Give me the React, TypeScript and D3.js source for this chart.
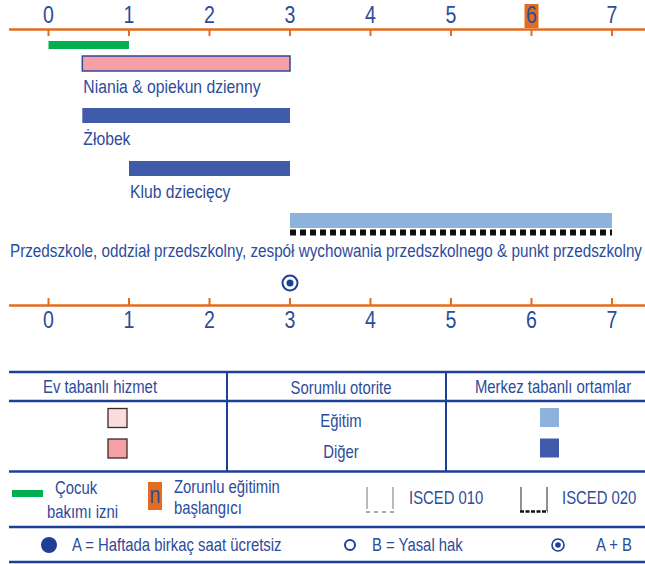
import * as d3 from "d3";
import type { ReactNode } from "react";

const WIDTH = 645;
const HEIGHT = 564;
const BLUE_TEXT = "#2c4c9c";
const ORANGE = "#e36c21";
const LINE_BLUE = "#1e3f98";
const FONT = "'Liberation Sans Narrow', 'Arial Narrow', 'Liberation Sans', Arial, sans-serif";
const SQUEEZE = 0.85; // no narrow font installed, so condense by hand

const ages = [0, 1, 2, 3, 4, 5, 6, 7];
const compulsoryAge = 6;
const leave = { start: 0, end: 1 };

type Setting = {
  label: string;
  start: number;
  end: number;
  fill: string;
  isced: "none" | "010" | "020";
  border?: string;
};

const settings: Setting[] = [
  { label: "Niania & opiekun dzienny", start: 0.42, end: 3, fill: "#f4a0a4", isced: "none", border: "#2a4a9a" },
  { label: "Żłobek", start: 0.42, end: 3, fill: "#3f5ba9", isced: "none" },
  { label: "Klub dziecięcy", start: 1, end: 3, fill: "#3f5ba9", isced: "none" },
  {
    label: "Przedszkole, oddział przedszkolny, zespół wychowania przedszkolnego & punkt przedszkolny",
    start: 3,
    end: 7,
    fill: "#8db3dd",
    isced: "020",
  },
];
const entitlementAge = 3;

const tableHeaders = ["Ev tabanlı hizmet", "Sorumlu otorite", "Merkez tabanlı ortamlar"];
const authorities = ["Eğitim", "Diğer"];
const homeColors = ["#fadcdd", "#f4a0a4"];
const centreColors = ["#8db3dd", "#3f5ba9"];

const x = d3.scaleLinear().domain([0, 7]).range([48.5, 612]);

const BAR_TOPS = [56, 108, 161, 213];
const BAR_H = 15;

function T({ x, y, size = 17, anchor = "start", len, children }: { x: number; y: number; size?: number; anchor?: string; len?: number; children: ReactNode }) {
  return (
    <text
      transform={`translate(${x} ${y}) scale(${SQUEEZE} 1)`}
      fontSize={size}
      fill={BLUE_TEXT}
      textAnchor={anchor}
      textLength={len ? len / SQUEEZE : undefined}
      lengthAdjust={len ? "spacingAndGlyphs" : undefined}
    >
      {children}
    </text>
  );
}

function App() {
  const colX = [9, 227, 446, 645];
  const colText = [100, 341, 553];
  return (
    <svg width={WIDTH} height={HEIGHT} viewBox={`0 0 ${WIDTH} ${HEIGHT}`} style={{ position: "absolute", left: 0, top: 0, background: "#fff" }} fontFamily={FONT}>
      {/* top axis */}
      <line x1={9} x2={WIDTH} y1={29.5} y2={29.5} stroke={ORANGE} strokeWidth={2.5} />
      <rect x={x(compulsoryAge) - 7} y={4} width={14} height={24} fill={ORANGE} />
      {ages.map((a) => (
        <g key={`t${a}`}>
          <line x1={x(a)} x2={x(a)} y1={29} y2={36} stroke={ORANGE} strokeWidth={2} />
          <T x={x(a)} y={23} size={23} anchor="middle">
            {a}
          </T>
        </g>
      ))}

      {/* leave */}
      <rect x={x(leave.start)} y={41} width={x(leave.end) - x(leave.start)} height={8} fill="#00b050" />

      {/* settings */}
      {settings.map((s, i) => {
        const y0 = BAR_TOPS[i];
        return (
          <g key={s.label}>
            <rect
              x={x(s.start)}
              y={y0}
              width={x(s.end) - x(s.start)}
              height={BAR_H}
              fill={s.fill}
              stroke={s.border ?? "none"}
              strokeWidth={s.border ? 1.5 : 0}
            />
            {s.isced === "020" && (
              <line
                x1={x(s.start)}
                x2={x(s.end)}
                y1={y0 + BAR_H + 4.5}
                y2={y0 + BAR_H + 4.5}
                stroke="#111"
                strokeWidth={6}
                strokeDasharray="6 4"
              />
            )}
            {i < settings.length - 1 ? (
              <T x={x(s.start) + 1} y={y0 + 37} size={18.5}>
                {s.label}
              </T>
            ) : (
              <T x={10} y={y0 + 44} size={19} len={632}>
                {s.label}
              </T>
            )}
          </g>
        );
      })}

      {/* entitlement marker A+B */}
      <circle cx={x(entitlementAge)} cy={283} r={7.5} fill="none" stroke={LINE_BLUE} strokeWidth={2} />
      <circle cx={x(entitlementAge)} cy={283} r={3.5} fill={LINE_BLUE} />

      {/* bottom axis */}
      <line x1={9} x2={WIDTH} y1={305.5} y2={305.5} stroke={ORANGE} strokeWidth={2.5} />
      {ages.map((a) => (
        <g key={`b${a}`}>
          <line x1={x(a)} x2={x(a)} y1={298} y2={305} stroke={ORANGE} strokeWidth={2} />
          <T x={x(a)} y={328} size={23} anchor="middle">
            {a}
          </T>
        </g>
      ))}

      {/* table */}
      {[372, 401, 471.5, 527, 562].map((yy) => (
        <line key={yy} x1={9} x2={WIDTH} y1={yy} y2={yy} stroke={LINE_BLUE} strokeWidth={2.5} />
      ))}
      {[colX[1], colX[2]].map((cx) => (
        <line key={cx} x1={cx} x2={cx} y1={372} y2={471} stroke={LINE_BLUE} strokeWidth={2} />
      ))}
      {tableHeaders.map((h, i) => (
        <T key={h} x={colText[i]} y={[393, 394, 393][i]} anchor="middle" size={17.5}>
          {h}
        </T>
      ))}
      {authorities.map((a, i) => {
        const cy = 418 + i * 30.5;
        return (
          <g key={a}>
            <rect x={108} y={cy - 9.5} width={19} height={19} fill={homeColors[i]} stroke="#3a2a2a" strokeWidth={1.3} />
            <T x={colText[1]} y={cy + 9} anchor="middle" size={17.5}>
              {a}
            </T>
            <rect x={540} y={cy - 10} width={19} height={19} fill={centreColors[i]} />
          </g>
        );
      })}

      {/* legend row 1 */}
      <rect x={12} y={490} width={31} height={7} fill="#00b050" />
      <T x={55} y={494} size={17.5}>
        Çocuk
      </T>
      <T x={47} y={518} size={17.5}>
        bakımı izni
      </T>
      <rect x={148} y={482} width={14} height={28} fill={ORANGE} />
      <T x={155} y={503} anchor="middle" size={23}>
        n
      </T>
      <T x={174} y={493} size={17.5}>
        Zorunlu eğitimin
      </T>
      <T x={174} y={514} size={17.5}>
        başlangıcı
      </T>

      <line x1={367} x2={367} y1={487} y2={509} stroke="#777" strokeWidth={1} />
      <line x1={393} x2={393} y1={487} y2={509} stroke="#777" strokeWidth={1} />
      <line x1={366} x2={394} y1={512} y2={512} stroke="#555" strokeWidth={1.2} strokeDasharray="4 4" />
      <T x={409} y={504} size={17.5}>
        ISCED 010
      </T>

      <line x1={521} x2={521} y1={487} y2={511} stroke="#222" strokeWidth={1} />
      <line x1={547} x2={547} y1={487} y2={511} stroke="#222" strokeWidth={1} />
      <line x1={520} x2={548} y1={511.5} y2={511.5} stroke="#111" strokeWidth={2.5} strokeDasharray="4 1.5" />
      <T x={562} y={504} size={17.5}>
        ISCED 020
      </T>

      {/* legend row 2 */}
      <circle cx={49} cy={545} r={8} fill={LINE_BLUE} />
      <T x={72} y={551} size={17.5}>
        A = Haftada birkaç saat ücretsiz
      </T>
      <circle cx={350} cy={545} r={5} fill="none" stroke={LINE_BLUE} strokeWidth={2} />
      <T x={372} y={551} size={17.5}>
        B = Yasal hak
      </T>
      <circle cx={558} cy={545} r={6} fill="none" stroke={LINE_BLUE} strokeWidth={1.6} />
      <circle cx={558} cy={545} r={2.8} fill={LINE_BLUE} />
      <T x={596} y={551} size={17.5}>
        A + B
      </T>
    </svg>
  );
}

export default App;
